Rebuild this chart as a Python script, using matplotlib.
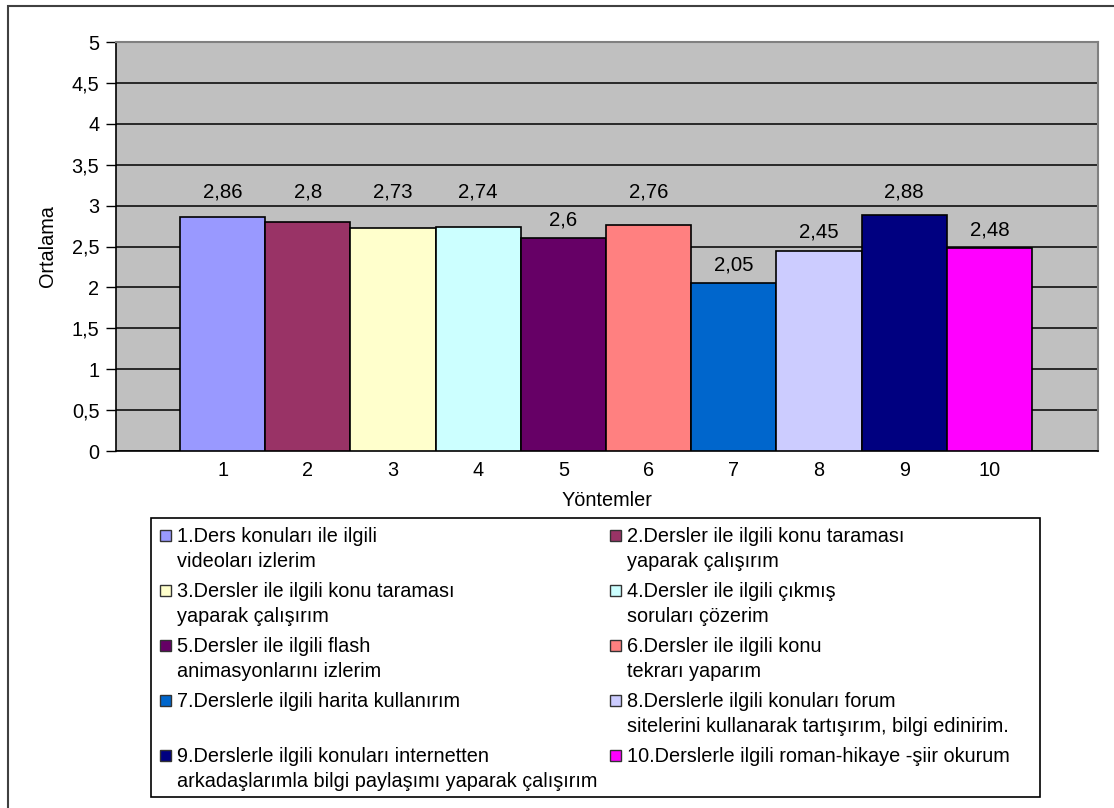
import matplotlib.pyplot as plt
from matplotlib.patches import Rectangle

plt.rcParams['font.family'] = ['Liberation Sans', 'DejaVu Sans']

# Mean scores per method
methods = ['1', '2', '3', '4', '5', '6', '7', '8', '9', '10']
means = [2.86, 2.80, 2.73, 2.74, 2.60, 2.76, 2.05, 2.45, 2.88, 2.48]
colors = ['#9999FF', '#993366', '#FFFFCC', '#CCFFFF', '#660066',
          '#FF8080', '#0066CC', '#CCCCFF', '#000080', '#FF00FF']
legend_labels = [
    '1.Ders konuları ile ilgili\nvideoları izlerim',
    '2.Dersler ile ilgili konu taraması\nyaparak çalışırım',
    '3.Dersler ile ilgili konu taraması\nyaparak çalışırım',
    '4.Dersler ile ilgili çıkmış\nsoruları çözerim',
    '5.Dersler ile ilgili flash\nanimasyonlarını izlerim',
    '6.Dersler ile ilgili konu\ntekrarı yaparım',
    '7.Derslerle ilgili harita kullanırım',
    '8.Derslerle ilgili konuları forum\nsitelerini kullanarak tartışırım, bilgi edinirim.',
    '9.Derslerle ilgili konuları internetten\narkadaşlarımla bilgi paylaşımı yaparak çalışırım',
    '10.Derslerle ilgili roman-hikaye -şiir okurum',
]

W, H = 1114, 808
fig = plt.figure(figsize=(W / 100, H / 100), dpi=100)


def fx(px):
    return px / W


def fy(py):
    return 1 - py / H


# outer chart frame (runs off the right and bottom edges)
fig.patches.append(Rectangle((fx(8), fy(830)), fx(1200), fy(6) - fy(830),
                             transform=fig.transFigure, fill=False,
                             edgecolor='#404040', linewidth=1.5))

ax = fig.add_axes([fx(116), fy(451), fx(1098 - 116), fy(42) - fy(451)])
ax.set_facecolor('#C0C0C0')

x = list(range(1, len(means) + 1))
ax.bar(x, means, width=1.0, color=colors, edgecolor='black', linewidth=1.2,
       zorder=3)

ax.set_xlim(-0.251, 11.275)
ax.set_ylim(0, 5)
ax.set_yticks([i * 0.5 for i in range(11)])
ax.set_yticklabels([f'{i * 0.5:g}'.replace('.', ',') for i in range(11)],
                   fontsize=14.3)
ax.set_xticks(x)
ax.set_xticklabels(methods, fontsize=14.3)
ax.tick_params(axis='x', length=0, pad=7)
ax.tick_params(axis='y', length=7, width=1, direction='out', pad=5)
ax.yaxis.grid(True, color='black', linewidth=1.1, zorder=1)
ax.set_axisbelow(True)

for side in ('top', 'right'):
    ax.spines[side].set_color('#808080')
    ax.spines[side].set_linewidth(1.5)
ax.spines['left'].set_linewidth(1.2)
ax.spines['bottom'].set_linewidth(1.2)

# value labels; ones near the 3.0 gridline are lifted above it
for xi, v in zip(x, means):
    y = max(v + 0.16, 3.1) if v > 2.7 else v + 0.16
    ax.text(xi, y, f'{v:g}'.replace('.', ','), ha='center', va='baseline',
            fontsize=14.7, zorder=4)

ax.set_xlabel('Yöntemler', fontsize=14.3, labelpad=8)
ax.set_ylabel('Ortalama', fontsize=14.3)
ax.yaxis.set_label_coords(-(116 - 57) / (1098 - 116), 0.5)

# legend box drawn by hand: two columns, five rows
fig.patches.append(Rectangle((fx(151), fy(797)), fx(1040 - 151),
                             fy(518) - fy(797), transform=fig.transFigure,
                             facecolor='white', edgecolor='black',
                             linewidth=1.2))
col_x = [160, 610]
row_base = [542, 597, 652, 707, 762]
for i, (lab, c) in enumerate(zip(legend_labels, colors)):
    cx = col_x[i % 2]
    by = row_base[i // 2]
    fig.patches.append(Rectangle((fx(cx), fy(by - 1)), fx(11), fy(by - 12) - fy(by - 1),
                                 transform=fig.transFigure, facecolor=c,
                                 edgecolor='#333333', linewidth=1))
    for k, line in enumerate(lab.split('\n')):
        fig.text(fx(cx + 17), fy(by + 25 * k), line, ha='left', va='baseline',
                 fontsize=14.3)

fig.savefig('out.png', dpi=100)
